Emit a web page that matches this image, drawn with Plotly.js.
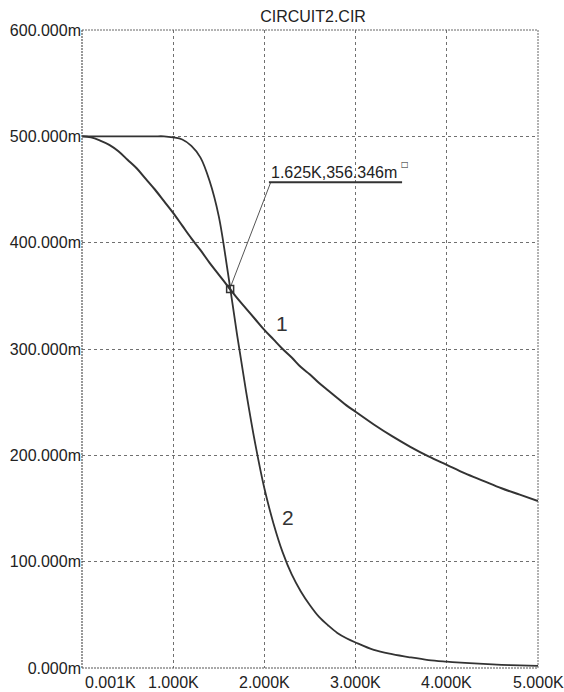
<!DOCTYPE html>
<html>
<head>
<meta charset="utf-8">
<script src="https://cdn.plot.ly/plotly-3.0.1.min.js"></script>
<style>html,body{margin:0;padding:0;background:#fff;}#chart{width:564px;height:692px;}</style>
</head>
<body>
<div id="chart"></div>
<script>
// Frequency (kHz)
var freqK = [0.001, 0.1, 0.2, 0.3, 0.4, 0.5, 0.6, 0.7, 0.8, 0.9, 1.0, 1.1, 1.2, 1.3, 1.4, 1.5, 1.6, 1.7, 1.8, 1.9, 2.0, 2.1, 2.2, 2.3, 2.4, 2.5, 2.6, 2.7, 2.8, 2.9, 3.0, 3.2, 3.4, 3.6, 3.8, 4.0, 4.2, 4.4, 4.6, 4.8, 5.0];
// Curve 1 (mV)
var curve1 = [500, 499, 496, 492, 486, 478, 470, 460, 450, 439, 428, 416, 404, 393, 381, 370, 359, 348, 338, 328, 318, 309, 300, 292, 283, 276, 268, 261, 254, 247, 241, 229, 218, 208, 199, 191, 183, 176, 169, 163, 157];
// Curve 2 (mV)
var curve2 = [500, 500, 500, 500, 500, 500, 500, 500, 500, 500, 499, 497, 491, 480, 458, 425, 372, 314, 260, 211, 169, 136, 109, 88, 72, 59, 48, 40, 33, 28, 24, 17, 13, 10, 7.5, 6, 4.8, 3.8, 3, 2.5, 2];
// Cursor readout
var cursorX = [1.625];
var cursorY = [356.346];
var cursorLabel = "1.625K,356.346m";
// Axis ticks
var xTickVals = [0.001, 1, 2, 3, 4, 5];
var xTickText = ["0.001K", "1.000K", "2.000K", "3.000K", "4.000K", "5.000K"];
var yTickVals = [0, 100, 200, 300, 400, 500, 600];
var yTickText = ["0.000m", "100.000m", "200.000m", "300.000m", "400.000m", "500.000m", "600.000m"];
var curveNames = ["1", "2"];

var FONT = "Liberation Sans, Arial, Helvetica, sans-serif";
var INK = "#222222";
var LINE = "#333333";

// style/placement constants for the cursor label
var labelAnchorX = 2.07, labelAnchorY = 456.8, underlineEndX = 3.51;
var pxPerMv = 638 / 600;

var traces = [
  {x: freqK, y: curve1, mode: "lines", line: {color: LINE, width: 2, shape: "spline", smoothing: 1}, hoverinfo: "skip"},
  {x: freqK, y: curve2, mode: "lines", line: {color: LINE, width: 1.8, shape: "spline", smoothing: 1}, hoverinfo: "skip"},
  {x: cursorX, y: cursorY, mode: "markers", marker: {symbol: "square-open", size: 7, color: "#333", line: {width: 1.5, color: "#333"}}, hoverinfo: "skip"}
];

var annotations = [];
for (var i = 0; i < xTickVals.length; i++) {
  annotations.push({
    x: i === 0 ? xTickVals[i] + 0.01 : xTickVals[i], xref: "x",
    y: -0.0235, yref: "paper",
    text: xTickText[i], showarrow: false,
    xanchor: i === 0 ? "left" : "center", yanchor: "middle",
    font: {family: FONT, size: 16, color: INK}
  });
}
annotations.push({
  x: labelAnchorX - 0.01, y: labelAnchorY, xref: "x", yref: "y",
  text: cursorLabel, showarrow: false, xanchor: "left", yanchor: "bottom",
  font: {family: FONT, size: 16, color: INK}, borderpad: 0
});
annotations.push({
  x: underlineEndX - 0.03, y: labelAnchorY + 17, xref: "x", yref: "y",
  text: "□", showarrow: false, xanchor: "left", yanchor: "middle",
  font: {family: "DejaVu Sans, sans-serif", size: 8, color: INK}
});
annotations.push({x: 2.19, y: 324, xref: "x", yref: "y", text: curveNames[0], showarrow: false,
  font: {family: FONT, size: 21, color: "#333"}});
annotations.push({x: 2.262, y: 142, xref: "x", yref: "y", text: curveNames[1], showarrow: false,
  font: {family: FONT, size: 21, color: "#333"}});

var startY = cursorY[0] + 4 / pxPerMv;
var startX = cursorX[0] + 0.012;
var shapes = [
  {type: "line", xref: "paper", yref: "paper", x0: 0, x1: 1, y0: 0, y1: 0, line: {color: "#555", width: 1.2, dash: "2px,1px"}},
  {type: "line", xref: "paper", yref: "paper", x0: 0, x1: 1, y0: 1, y1: 1, line: {color: "#666", width: 1, dash: "2px,1px"}},
  {type: "line", xref: "paper", yref: "paper", x0: 0, x1: 0, y0: 0, y1: 1, line: {color: "#555", width: 1.2, dash: "2px,1px"}},
  {type: "line", xref: "paper", yref: "paper", x0: 1, x1: 1, y0: 0, y1: 1, line: {color: "#666", width: 1, dash: "2px,1px"}},
  {type: "line", xref: "x", yref: "y", x0: startX, y0: startY, x1: labelAnchorX, y1: labelAnchorY, line: {color: "#555", width: 1}},
  {type: "line", xref: "x", yref: "y", x0: labelAnchorX - 0.02, y0: labelAnchorY, x1: underlineEndX, y1: labelAnchorY, line: {color: "#333", width: 2}}
];

var layout = {
  width: 564, height: 692,
  margin: {l: 82, r: 26, t: 30, b: 24, pad: 0},
  paper_bgcolor: "#ffffff", plot_bgcolor: "#ffffff",
  showlegend: false,
  title: {text: "CIRCUIT2.CIR", x: 0.555, xanchor: "center", y: 1 - 16 / 692, yanchor: "middle",
    font: {family: FONT, size: 16, color: INK}},
  xaxis: {range: [0.001, 5], tickvals: [1, 2, 3, 4], showticklabels: false, ticks: "",
    showgrid: true, gridcolor: "#707070", gridwidth: 1, griddash: "dot", zeroline: false, showline: false, fixedrange: true},
  yaxis: {range: [0, 600], tickvals: yTickVals, ticktext: yTickText, ticks: "",
    tickfont: {family: FONT, size: 16, color: INK},
    showgrid: true, gridcolor: "#707070", gridwidth: 1, griddash: "dot", zeroline: false, showline: false, fixedrange: true},
  annotations: annotations,
  shapes: shapes
};

Plotly.newPlot("chart", traces, layout, {staticPlot: true, displayModeBar: false});
</script>
</body>
</html>
